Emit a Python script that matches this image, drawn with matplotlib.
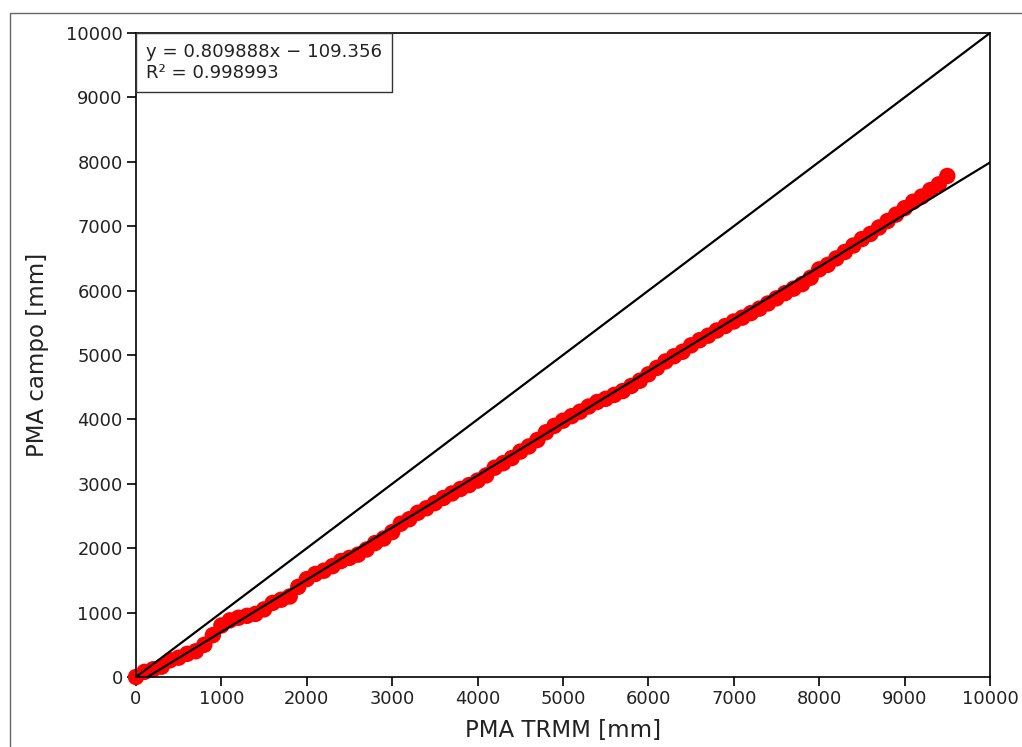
import matplotlib
matplotlib.use('Agg')
import matplotlib.pyplot as plt
from matplotlib.patches import Rectangle
from matplotlib.offsetbox import AnchoredText
import numpy as np

# PMA TRMM (x) x PMA campo (y)
pma_trmm = [0, 100, 200, 300, 400, 500, 600, 700, 800, 900,
            1000, 1100, 1200, 1300, 1400, 1500, 1600, 1700, 1800, 1900,
            2000, 2100, 2200, 2300, 2400, 2500, 2600, 2700, 2800, 2900,
            3000, 3100, 3200, 3300, 3400, 3500, 3600, 3700, 3800, 3900,
            4000, 4100, 4200, 4300, 4400, 4500, 4600, 4700, 4800, 4900,
            5000, 5100, 5200, 5300, 5400, 5500, 5600, 5700, 5800, 5900,
            6000, 6100, 6200, 6300, 6400, 6500, 6600, 6700, 6800, 6900,
            7000, 7100, 7200, 7300, 7400, 7500, 7600, 7700, 7800, 7900,
            8000, 8100, 8200, 8300, 8400, 8500, 8600, 8700, 8800, 8900,
            9000, 9100, 9200, 9300, 9400, 9500]
pma_campo = [0, 80, 120, 160, 260, 300, 360, 400, 500, 650,
             800, 880, 920, 950, 980, 1050, 1150, 1200, 1250, 1400,
             1520, 1600, 1650, 1720, 1800, 1850, 1900, 1980, 2080, 2150,
             2250, 2380, 2450, 2550, 2620, 2700, 2780, 2850, 2920, 2980,
             3050, 3130, 3250, 3320, 3400, 3500, 3580, 3680, 3800, 3900,
             3980, 4050, 4120, 4200, 4270, 4320, 4380, 4440, 4520, 4600,
             4700, 4800, 4900, 4980, 5050, 5150, 5230, 5300, 5380, 5450,
             5520, 5580, 5650, 5720, 5800, 5880, 5960, 6030, 6100, 6200,
             6330, 6400, 6500, 6600, 6700, 6800, 6880, 6980, 7080, 7180,
             7280, 7380, 7460, 7560, 7650, 7780]

slope = 0.809888
intercept = -109.356
r2 = 0.998993
lims = [0, 10000]

fig = plt.figure(figsize=(10.22, 7.47), dpi=100)
ax = fig.add_axes([136/1022, 1 - 677/747, 854/1022, 644/747])

ax.scatter(pma_trmm, pma_campo, s=140, color='red', edgecolors='none', zorder=2,
           clip_on=False)
ax.plot(lims, lims, color='black', lw=1.6, zorder=3)
xl = np.array(lims)
ax.plot(xl, slope * xl + intercept, color='black', lw=1.6, zorder=3)

ax.set_xlim(lims)
ax.set_ylim(lims)
ax.set_xticks(range(0, 10001, 1000))
ax.set_yticks(range(0, 10001, 1000))
ax.tick_params(labelsize=12.9, length=6.5, width=1.2, pad=3, labelcolor='#222222')
ax.set_xlabel('PMA TRMM [mm]', fontsize=16.5, color='#222222', labelpad=8)
ax.set_ylabel('PMA campo [mm]', fontsize=16.5, color='#222222', labelpad=12)
for s in ax.spines.values():
    s.set_linewidth(1.2)

txt = AnchoredText('y = %.6fx \u2212 %.3f\nR\u00b2 = %.6f' % (slope, -intercept, r2),
                   loc='upper left', borderpad=0, pad=0.55,
                   prop=dict(size=13.1, color='#222222', linespacing=1.2))
txt.patch.set_edgecolor('#333333')
txt.patch.set_linewidth(1.0)
ax.add_artist(txt)

# moldura da figura (cortada)
fig.add_artist(Rectangle((10/1022, -0.1), 2, 1.1 - 13/747, transform=fig.transFigure,
                         fill=False, edgecolor='#666666', lw=1.0))

fig.savefig('out.png', dpi=100)
